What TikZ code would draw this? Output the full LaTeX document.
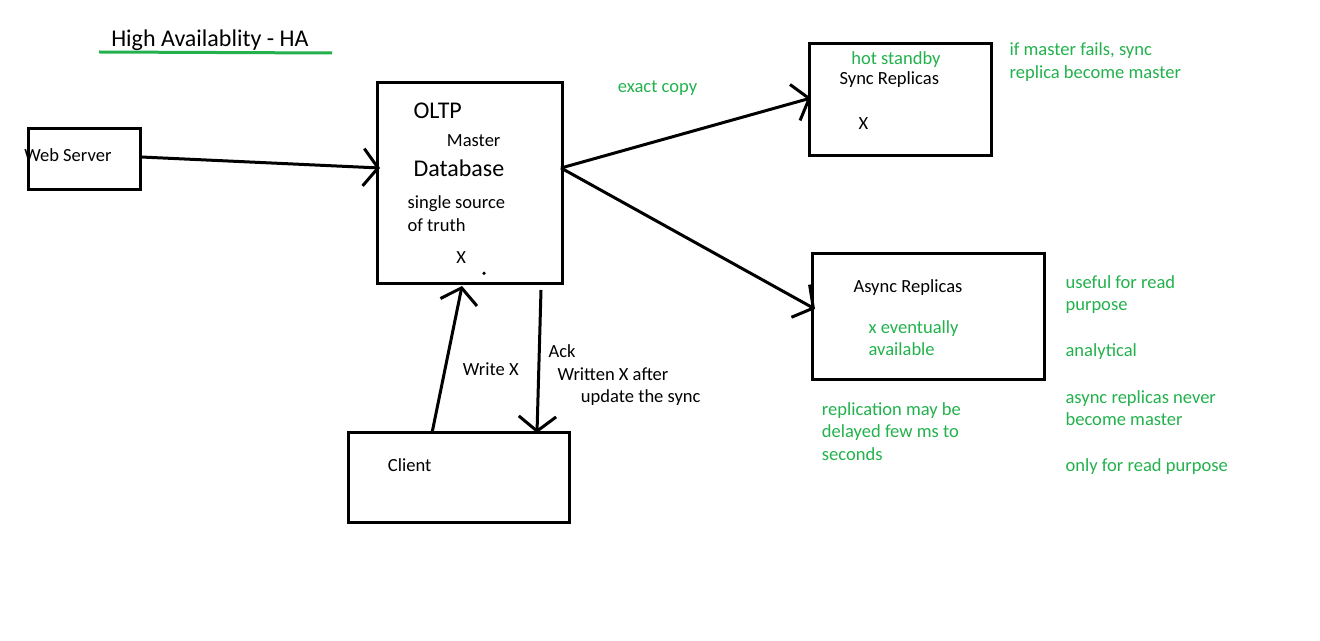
\documentclass[tikz,border=0pt]{standalone}
\usepackage{fontspec}
\setmainfont{Carlito}
\usetikzlibrary{arrows.meta}
\definecolor{pgreen}{RGB}{34,177,76}
\begin{document}
\begin{tikzpicture}[x=0.75pt,y=-0.75pt,
  box/.style={draw,line width=2.25pt,rectangle,inner sep=0pt,outer sep=0pt,anchor=north west},
  txt/.style={anchor=base west,inner sep=0pt,font=\fontsize{13.9}{16}\selectfont},
  big/.style={anchor=base west,inner sep=0pt,font=\fontsize{18}{22}\selectfont},
  gtxt/.style={txt,text=pgreen},
  arr/.style={line width=2.25pt,-{Straight Barb[length=11pt,width=28pt]}}]
\useasboundingbox (0,0) rectangle (1320,641);

% title
\node[big] (title) at (111,47) {High Availablity - HA};
\coordinate (ulA) at (99,52);
\coordinate (ulB) at (332,53);
\draw[pgreen,line width=2.25pt] (ulA) -- (ulB);

% boxes
\node[box,minimum width=84.5pt,minimum height=45.75pt] (web) at (28.3,128.3) {};
\node[box,minimum width=139pt,minimum height=150.5pt] (master) at (377.3,82.7) {};
\node[box,minimum width=136.3pt,minimum height=84.3pt] (sync) at (809.3,43.3) {};
\node[box,minimum width=173.7pt,minimum height=95pt] (async) at (812.7,253.3) {};
\node[box,minimum width=165.75pt,minimum height=67.2pt] (client) at (348.3,432.7) {};

% box texts
\node[txt] (webt) at (24,162) {Web Server};
\node[big] (oltp) at (413.3,118.3) {OLTP};
\node[txt] (mast) at (446.7,146.7) {Master};
\node[big] (db) at (413.3,176.7) {Database};
\node[txt] (ss1) at (407.3,208.3) {single source};
\node[txt] (ss2) at (407.3,231.7) {of truth};
\node[txt] (mx) at (456,263.3) {X};
\fill (484,273.3) circle (1.8);

\node[gtxt] (hot) at (851,64.3) {hot standby};
\node[txt] (syncl) at (839.3,85) {Sync Replicas};
\node[txt] (sx) at (858.3,130) {X};

\node[txt] (asyncl) at (853.3,292.7) {Async Replicas};
\node[gtxt] (ev1) at (868.3,333.3) {x eventually};
\node[gtxt] (ev2) at (868.3,355.7) {available};

\node[txt] (cl) at (387.7,471.7) {Client};

% notes
\node[gtxt] (copy) at (617.7,92.3) {exact copy};
\node[gtxt] (f1) at (1009.3,55.7) {if master fails, sync};
\node[gtxt] (f2) at (1009.3,78.3) {replica become master};
\node[gtxt] (r1) at (821.7,415) {replication may be};
\node[gtxt] (r2) at (821.7,437.7) {delayed few ms to};
\node[gtxt] (r3) at (821.7,460) {seconds};
\node[gtxt] (u1) at (1065.3,288.3) {useful for read};
\node[gtxt] (u2) at (1065.3,310.7) {purpose};
\node[gtxt] (u3) at (1065.3,356.7) {analytical};
\node[gtxt] (u4) at (1065.3,403.3) {async replicas never};
\node[gtxt] (u5) at (1065.3,425.7) {become master};
\node[gtxt] (u6) at (1065.3,471.7) {only for read purpose};

\node[txt] (wx) at (462.7,376) {Write X};
\node[txt] (ack1) at (548.3,357.3) {Ack};
\node[txt] (ack2) at (557.3,380) {Written X after};
\node[txt] (ack3) at (580.7,402.7) {update the sync};

% connector end points
\coordinate (wOut) at (141,157);
\coordinate (mIn) at (380,168);
\coordinate (mOut) at (561,168);
\coordinate (sIn) at (811,98);
\coordinate (aIn) at (815,309);
\coordinate (cTop1) at (432,433);
\coordinate (mBot) at (462,286);
\coordinate (mBot2) at (541,290);
\coordinate (cTop2) at (537,433);

\draw[arr] (wOut) -- (mIn);
\draw[arr] (mOut) -- (sIn);
\draw[arr] (mOut) -- (aIn);
\draw[arr] (cTop1) -- (mBot);
\draw[arr] (mBot2) -- (cTop2);
\end{tikzpicture}
\end{document}
